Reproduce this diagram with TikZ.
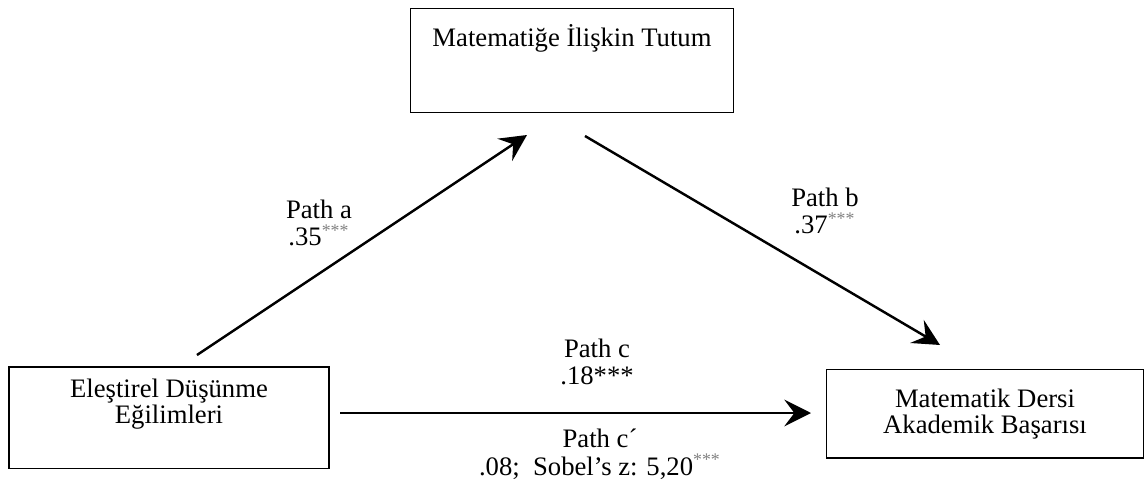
\documentclass[tikz,border=0pt]{standalone}
\usepackage{fontspec}
\setmainfont{Liberation Serif}
\usetikzlibrary{arrows.meta}
% grey significance stars
\newcommand{\sigstars}{\textsuperscript{\color{gray}***}}
\begin{document}
\begin{tikzpicture}[
			x=0.45pt, y=-0.45pt,
			every node/.style={font=\fontsize{12}{11.7}\selectfont},
			box/.style={draw, line width=0.5pt, inner sep=0pt},
			pathlabel/.style={align=center, font=\fontsize{12}{12.4}\selectfont},
			effect/.style={line width=1.1pt, -{Stealth[length=12pt,width=12pt,inset=4.5pt]}}
		]
		\useasboundingbox (0,0) rectangle (1147,487);
		% variables
		\node[box, minimum width=145pt, minimum height=46.4pt] (att) at (572,60.5) {};
		\node[anchor=north] (atttext) at (572,17) {Matematiğe İlişkin Tutum};
		\node[box, minimum width=144pt, minimum height=45.5pt] (crit) at (169,417.5) {};
		\node[align=center] (crittext) at (169,404) {Eleştirel Düşünme\\Eğilimleri};
		\node[box, minimum width=143pt, minimum height=40pt] (ach) at (985,413.5) {};
		\node[align=center] (achtext) at (985,414) {Matematik Dersi\\Akademik Başarısı};
		% arrow ends
		\coordinate (a0) at (197,355);
		\coordinate (a1) at (527,135);
		\coordinate (b0) at (585,136);
		\coordinate (b1) at (940,345);
		\coordinate (c0) at (340,413);
		\coordinate (c1) at (811,413);
		\draw[effect] (a0) -- (a1);
		\draw[effect] (b0) -- (b1);
		\draw[effect] (c0) -- (c1);
		% coefficients
		\node[pathlabel] (pa) at (319,223) {Path a\\.35\sigstars};
		\node[pathlabel] (pb) at (825,211) {Path b\\.37\sigstars};
		\node[pathlabel] (pc) at (597,362) {Path c\\.18***};
		\node[pathlabel] (pcc) at (600,454) {Path c´\\.08;\ \ Sobel’s z: 5,20\sigstars};
	\end{tikzpicture}
\end{document}
